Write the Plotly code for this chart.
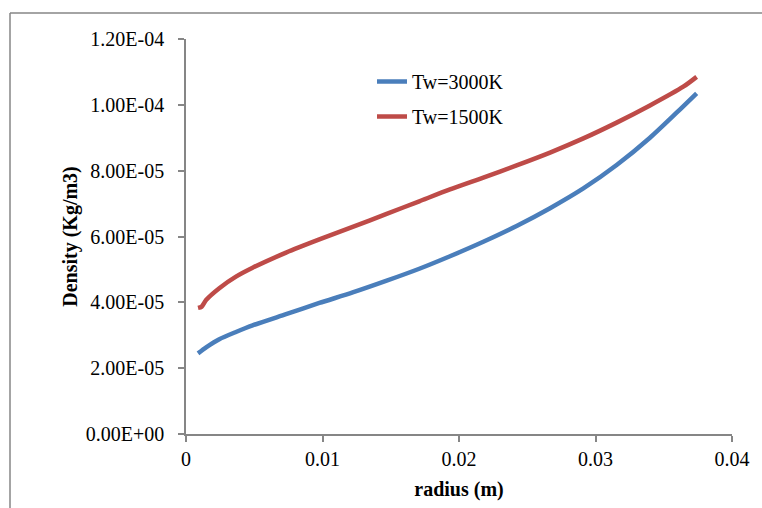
import plotly.graph_objects as go

# Data
r_3000 = [0.00088, 0.00150, 0.00244, 0.00366, 0.00488, 0.00733, 0.00977, 0.01221,
          0.01465, 0.01709, 0.01934, 0.02178, 0.02422, 0.02667, 0.02911, 0.03155,
          0.03399, 0.03594, 0.03741]
rho_3000 = [2.45e-5, 2.64e-5, 2.88e-5, 3.10e-5, 3.30e-5, 3.64e-5, 3.98e-5, 4.30e-5,
            4.65e-5, 5.02e-5, 5.40e-5, 5.84e-5, 6.32e-5, 6.86e-5, 7.46e-5, 8.17e-5,
            9.00e-5, 9.76e-5, 1.035e-4]

r_1500 = [0.00088, 0.00115, 0.00147, 0.00244, 0.00366, 0.00488, 0.00733, 0.00977,
          0.01221, 0.01465, 0.01709, 0.01934, 0.02178, 0.02422, 0.02667, 0.02911,
          0.03155, 0.03399, 0.03643, 0.03741]
rho_1500 = [3.83e-5, 3.87e-5, 4.07e-5, 4.43e-5, 4.78e-5, 5.05e-5, 5.51e-5, 5.91e-5,
            6.29e-5, 6.68e-5, 7.07e-5, 7.43e-5, 7.79e-5, 8.16e-5, 8.55e-5, 8.98e-5,
            9.46e-5, 9.98e-5, 1.055e-4, 1.085e-4]

x_ticks = [0, 0.01, 0.02, 0.03, 0.04]
x_ticktext = ["0", "0.01", "0.02", "0.03", "0.04"]
y_ticks = [0, 2e-5, 4e-5, 6e-5, 8e-5, 1e-4, 1.2e-4]
y_ticktext = ["0.00E+00", "2.00E-05", "4.00E-05", "6.00E-05", "8.00E-05", "1.00E-04", "1.20E-04"]

FONT = "Liberation Serif, Times New Roman, serif"
AXIS_COLOR = "#868686"

W, H = 762, 508
L, R, T, B = 186, 30, 39, 74
pw, ph = W - L - R, H - T - B

def px_to_paper_x(px):
    return (px - L) / pw

def px_to_paper_y(py):
    return (H - B - py) / ph

fig = go.Figure()
fig.add_trace(go.Scatter(x=r_3000, y=rho_3000, mode="lines", name="Tw=3000K",
                         legendgroup="a",
                         line=dict(color="#4A7EBB", width=4.5, shape="spline",
                                   smoothing=0.7)))
fig.add_trace(go.Scatter(x=r_1500, y=rho_1500, mode="lines", name="Tw=1500K",
                         legendgroup="b",
                         line=dict(color="#BE4B48", width=4.5, shape="spline",
                                   smoothing=0.7)))

fig.update_layout(
    width=W, height=H,
    margin=dict(l=L, r=R, t=T, b=B),
    paper_bgcolor="white", plot_bgcolor="white",
    font=dict(family=FONT, size=20, color="black"),
    showlegend=True,
    legend=dict(x=px_to_paper_x(372), y=px_to_paper_y(62), xanchor="left", yanchor="top",
                bgcolor="rgba(0,0,0,0)", font=dict(family=FONT, size=20),
                traceorder="grouped", tracegroupgap=6),
    xaxis=dict(range=[0, 0.04], tickvals=x_ticks, ticktext=x_ticktext,
               showgrid=False, zeroline=False, showline=True, linecolor=AXIS_COLOR,
               linewidth=1.5, ticks="outside", ticklen=6, tickcolor=AXIS_COLOR,
               tickwidth=1.5, tickfont=dict(family=FONT, size=20),
               title=dict(text="<b>radius (m)</b>", font=dict(family=FONT, size=20),
                          standoff=13)),
    yaxis=dict(range=[0, 1.2e-4], tickvals=y_ticks, ticktext=y_ticktext,
               showgrid=False, zeroline=False, showline=True, linecolor=AXIS_COLOR,
               linewidth=1.5, ticks="outside", ticklen=6, tickcolor=AXIS_COLOR,
               tickwidth=1.5, tickfont=dict(family=FONT, size=20),
               ticklabelstandoff=10,
               title=dict(text="<b>Density (Kg/m3)</b>", font=dict(family=FONT, size=20),
                          standoff=3)),
    shapes=[
        dict(type="line", xref="paper", yref="paper",
             x0=px_to_paper_x(10), x1=px_to_paper_x(10),
             y0=px_to_paper_y(13), y1=px_to_paper_y(520),
             line=dict(color=AXIS_COLOR, width=1.5)),
        dict(type="line", xref="paper", yref="paper",
             x0=px_to_paper_x(10), x1=px_to_paper_x(780),
             y0=px_to_paper_y(13), y1=px_to_paper_y(13),
             line=dict(color=AXIS_COLOR, width=1.5)),
    ],
)

fig.write_html("out.html")
